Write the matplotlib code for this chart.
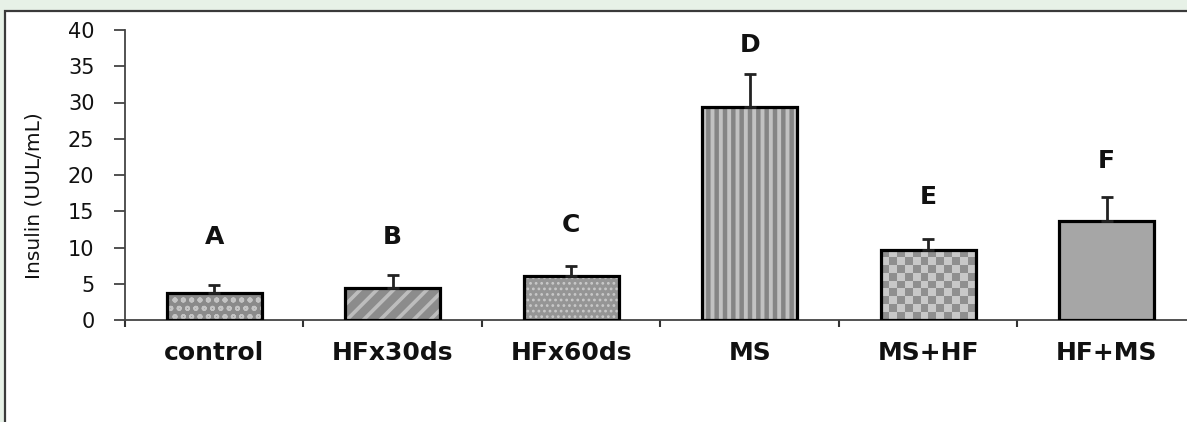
import numpy as np
import matplotlib
matplotlib.use("Agg")
import matplotlib.pyplot as plt
from matplotlib.patches import Rectangle
from matplotlib.colors import ListedColormap

# values
groups = ["control", "HFx30ds", "HFx60ds", "MS", "MS+HF", "HF+MS"]
insulin = [3.7, 4.4, 6.1, 29.4, 9.7, 13.6]
sem = [1.1, 1.8, 1.4, 4.5, 1.5, 3.4]
letters = ["A", "B", "C", "D", "E", "F"]
letter_y = [11.4, 11.4, 13.1, 37.9, 17.0, 21.9]

# fill styles per bar: (face colour, hatch, hatch colour, hatch width)
fills = [
    ("#8a8a8a", "oo", "#c4c4c4", 1.3),
    ("#8c8c8c", "//", "#bdbdbd", 2.6),
    ("#959595", "...", "#c9c9c9", 1.2),
    ("#858585", "||", "#c2c2c2", 2.8),
    (None, None, None, None),          # checkerboard, drawn below
    ("#a6a6a6", None, None, None),
]

plt.rcParams["font.family"] = "DejaVu Sans"

fig = plt.figure(figsize=(11.87, 4.22), dpi=100, facecolor="#e7f1e7")
# white panel with a dark frame (cropped on the right and bottom)
fig.patches.append(Rectangle((5 / 1187, -0.1), 1.2, 411 / 422 + 0.1,
                             transform=fig.transFigure, facecolor="white",
                             edgecolor="#3a3a3a", linewidth=1.6, zorder=-10))

ax = fig.add_axes([125 / 1187, 102 / 422, 1071 / 1187, 290 / 422])
ax.set_facecolor("none")

n = len(groups)
x = np.arange(n)
w = 0.53
ax.set_xlim(-0.5, n - 0.5)
ax.set_ylim(0, 40)

for i in range(n):
    face, hatch, hcol, hlw = fills[i]
    if face is None:
        continue
    with plt.rc_context({"hatch.linewidth": hlw or 1.0}):
        ax.bar(x[i], insulin[i], width=w, color=face, hatch=hatch,
               edgecolor=hcol if hcol else face, linewidth=0, zorder=2)

outline = ax.bar(x, insulin, width=w, fill=False, edgecolor="black",
                 linewidth=2.3, zorder=3)

# checkerboard texture for MS+HF
b = outline[4]
ext = b.get_window_extent()
ncol = max(int(round(ext.width / 8)), 1)
nrow = max(int(round(ext.height / 8)), 1)
checker = np.add.outer(np.arange(nrow), np.arange(ncol)) % 2
ax.imshow(checker, cmap=ListedColormap(["#8f8f8f", "#c8c8c8"]),
          extent=(b.get_x(), b.get_x() + b.get_width(), 0, b.get_height()),
          aspect="auto", interpolation="nearest", clip_path=b, zorder=2)

ax.errorbar(x, insulin, yerr=[np.zeros(n), sem], fmt="none", ecolor="#222222",
            elinewidth=2.0, capsize=4.5, capthick=2.0, zorder=4)

for i in range(n):
    ax.text(x[i], letter_y[i], letters[i], ha="center", va="center",
            fontsize=18, fontweight="bold", color="#111111")

ax.set_xlim(-0.5, n - 0.5)
ax.set_ylim(0, 40)
ax.set_yticks(range(0, 41, 5))
ax.tick_params(axis="y", labelsize=15, length=8, width=1.2, pad=14,
               colors="#333333", labelcolor="#111111")

ax.set_xticks(x)
ax.set_xticklabels(groups, fontsize=18, fontweight="bold", color="#111111")
ax.tick_params(axis="x", which="major", length=0, pad=15)
ax.set_xticks(np.arange(-0.5, n, 1), minor=True)
ax.tick_params(axis="x", which="minor", length=5, width=1.5, colors="#333333")

for s in ["top", "right"]:
    ax.spines[s].set_visible(False)
for s in ["left", "bottom"]:
    ax.spines[s].set_color("#444444")
    ax.spines[s].set_linewidth(1.3)

fig.text(34 / 1187, 1 - 196 / 422, "Insulin (UUL/mL)", rotation=90,
         ha="center", va="center", fontsize=14.5, color="#111111")

fig.savefig("out.png", dpi=100, facecolor=fig.get_facecolor())
